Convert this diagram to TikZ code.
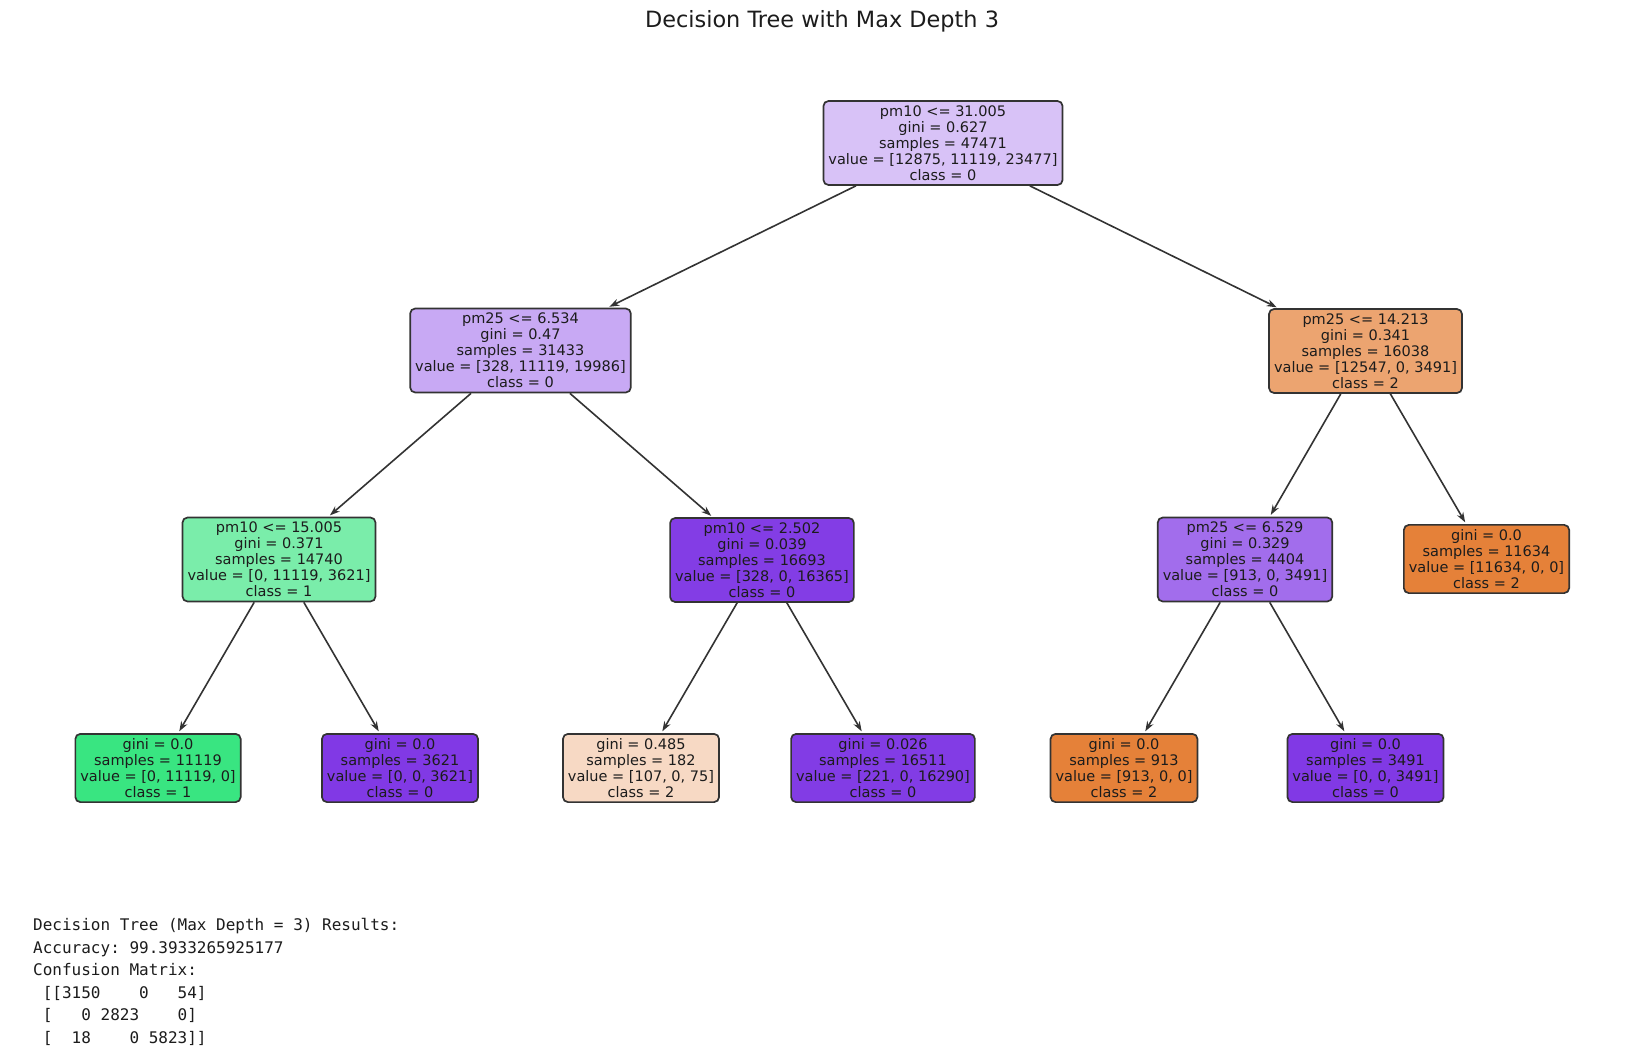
\documentclass[tikz,border=0pt]{standalone}
\usepackage{fontspec}
\setmainfont{DejaVu Sans}
\setmonofont{DejaVu Sans Mono}
\usepackage{tikz}
\usetikzlibrary{arrows.meta}
% class colours (filled by purity)
\definecolor{nodeedge}{RGB}{51,51,51}
\definecolor{nodetext}{RGB}{28,28,28}
\definecolor{rootfill}{RGB}{216,194,247}
\definecolor{purpleA}{RGB}{200,169,244}
\definecolor{purpleB}{RGB}{131,61,229}
\definecolor{purpleC}{RGB}{162,109,236}
\definecolor{purpleD}{RGB}{130,60,229}
\definecolor{purpleFull}{RGB}{129,57,229}
\definecolor{orangeA}{RGB}{236,164,112}
\definecolor{orangeB}{RGB}{247,217,196}
\definecolor{orangeFull}{RGB}{229,129,57}
\definecolor{greenA}{RGB}{122,237,170}
\definecolor{greenFull}{RGB}{57,229,129}
\tikzset{treenode/.style={draw=nodeedge, line width=1.7pt, rounded corners=5pt, fill=#1,
  align=center, inner xsep=5pt, inner ysep=4.5pt, text=nodetext, font=\fontsize{14.5}{16}\selectfont},
%arrow from parent to child
edge/.style={-{Stealth[length=10pt,width=7pt]}, draw=nodeedge, line width=1.6pt, shorten >=2pt}}

\begin{document}
\begin{tikzpicture}[x=1pt,y=-1pt]
\useasboundingbox (0,0) rectangle (1630,1050);
\fill[white] (0,0) rectangle (1630,1050);

% title
\node[text=nodetext, font=\fontsize{22.4}{26}\selectfont] (title) at (822,21) {Decision Tree with Max Depth 3};

% depth 0 and 1
\node[treenode=rootfill] (root) at (943,143) {pm10 <= 31.005\\gini = 0.627\\samples = 47471\\value = [12875, 11119, 23477]\\class = 0};
\node[treenode=purpleA] (split1) at (520.5,350.5) {pm25 <= 6.534\\gini = 0.47\\samples = 31433\\value = [328, 11119, 19986]\\class = 0};
\node[treenode=orangeA] (split2) at (1365.5,351) {pm25 <= 14.213\\gini = 0.341\\samples = 16038\\value = [12547, 0, 3491]\\class = 2};

% depth 2
\node[treenode=greenA] (split3) at (279,559.5) {pm10 <= 15.005\\gini = 0.371\\samples = 14740\\value = [0, 11119, 3621]\\class = 1};
\node[treenode=purpleB] (split4) at (762,560) {pm10 <= 2.502\\gini = 0.039\\samples = 16693\\value = [328, 0, 16365]\\class = 0};
\node[treenode=purpleC] (split5) at (1245,559.5) {pm25 <= 6.529\\gini = 0.329\\samples = 4404\\value = [913, 0, 3491]\\class = 0};
\node[treenode=orangeFull] (leafG) at (1486.5,559) {gini = 0.0\\samples = 11634\\value = [11634, 0, 0]\\class = 2};

% leaves
\node[treenode=greenFull] (leafA) at (158,768) {gini = 0.0\\samples = 11119\\value = [0, 11119, 0]\\class = 1};
\node[treenode=purpleFull] (leafB) at (400,768) {gini = 0.0\\samples = 3621\\value = [0, 0, 3621]\\class = 0};
\node[treenode=orangeB] (leafC) at (641,768) {gini = 0.485\\samples = 182\\value = [107, 0, 75]\\class = 2};
\node[treenode=purpleD] (leafD) at (883,768) {gini = 0.026\\samples = 16511\\value = [221, 0, 16290]\\class = 0};
\node[treenode=orangeFull] (leafE) at (1124,768) {gini = 0.0\\samples = 913\\value = [913, 0, 0]\\class = 2};
\node[treenode=purpleFull] (leafF) at (1365.5,768) {gini = 0.0\\samples = 3491\\value = [0, 0, 3491]\\class = 0};

\foreach \a/\b in {root/split1, root/split2, split1/split3, split1/split4, split2/split5, split2/leafG,
  split3/leafA, split3/leafB, split4/leafC, split4/leafD, split5/leafE, split5/leafF}
     \draw[edge] (\a) -- (\b);

% printed results
\node[anchor=north west, inner sep=0pt, align=left, text=nodetext, font=\ttfamily\fontsize{16}{22.6}\selectfont] (results) at (33,918)
  {Decision Tree (Max Depth = 3) Results:\\Accuracy: 99.3933265925177\\Confusion Matrix:\\
   ~[[3150~~~~0~~~54]\\~[~~~0~2823~~~~0]\\~[~~18~~~~0~5823]]};
\end{tikzpicture}
\end{document}
